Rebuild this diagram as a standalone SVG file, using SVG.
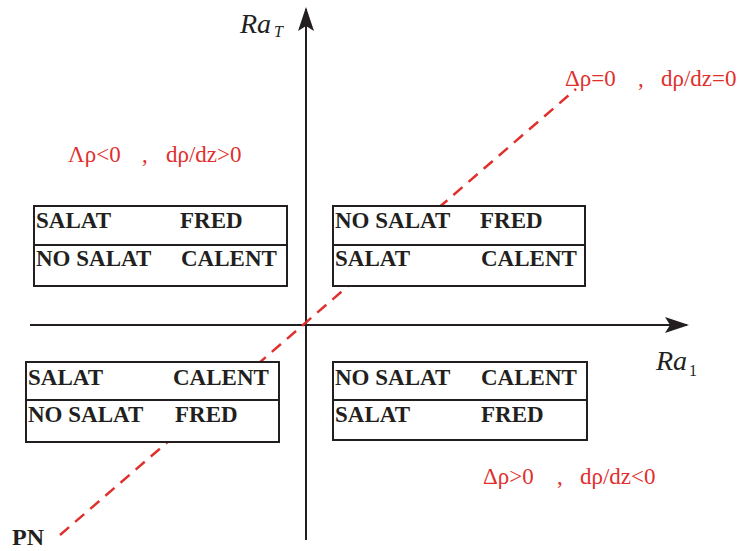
<svg xmlns="http://www.w3.org/2000/svg" width="742" height="551" viewBox="0 0 742 551">
<style>
.box{fill:#fff;stroke:#231f20;stroke-width:2}
.div{stroke:#231f20;stroke-width:2}
.t{font-family:"Liberation Serif", "Times New Roman", serif;font-weight:bold;font-size:23px;fill:#231f20}
.r{font-family:"Liberation Serif", "Times New Roman", serif;font-size:23px;fill:#e0302e}
.ax{font-family:"Liberation Serif", "Times New Roman", serif;font-style:italic;font-size:28px;fill:#231f20}
.sub{font-family:"Liberation Serif", "Times New Roman", serif;font-style:italic;font-size:16px;fill:#231f20}
</style>
<defs>
<marker id="arr" viewBox="0 0 24 16" refX="22" refY="8" markerWidth="24" markerHeight="16" markerUnits="userSpaceOnUse" orient="auto">
<path d="M0,0 L24,8 L0,16 L5,8 Z" fill="#231f20"/>
</marker>
</defs>
<rect width="742" height="551" fill="#fff"/>
<g id="connectors">
<line x1="306" y1="540" x2="306" y2="9" stroke="#231f20" stroke-width="2" marker-end="url(#arr)"/>
<line x1="30" y1="325" x2="687" y2="325" stroke="#231f20" stroke-width="2" marker-end="url(#arr)"/>
<line x1="60" y1="535" x2="576" y2="89" stroke="#e0302e" stroke-width="2.5" stroke-dasharray="12,8"/>
</g>
<g id="axis-labels">
<text class="ax" x="240" y="33">Ra</text><text class="sub" x="274" y="37">T</text>
<text class="ax" x="656" y="370">Ra</text><text class="sub" x="689" y="376" style="font-style:normal">1</text>
<text class="t" x="12" y="545" style="font-size:24px">PN</text>
</g>
<g id="label-top-right">
<text class="r" x="565" y="86">Δρ=0</text><text class="r" x="638" y="86">,</text><text class="r" x="661" y="86">dρ/dz=0</text>
</g>
<g id="label-top-left">
<text class="r" x="68" y="162">Λρ&lt;0</text><text class="r" x="142" y="162">,</text><text class="r" x="166" y="162">dρ/dz&gt;0</text>
</g>
<g id="label-bottom-right">
<text class="r" x="483" y="484">Δρ&gt;0</text><text class="r" x="557" y="484">,</text><text class="r" x="580" y="484">dρ/dz&lt;0</text>
</g>
<g id="box-top-left">
<rect class="box" x="34" y="206" width="253" height="80"/>
<line class="div" x1="34" y1="245" x2="287" y2="245"/>
<text class="t" x="36" y="228">SALAT</text><text class="t" x="180" y="228">FRED</text>
<text class="t" x="36" y="266">NO SALAT</text><text class="t" x="181" y="266">CALENT</text>
</g>
<g id="box-top-right">
<rect class="box" x="333" y="206" width="252" height="80"/>
<line class="div" x1="333" y1="245" x2="585" y2="245"/>
<text class="t" x="335" y="228">NO SALAT</text><text class="t" x="480" y="228">FRED</text>
<text class="t" x="335" y="266">SALAT</text><text class="t" x="481" y="266">CALENT</text>
</g>
<g id="box-bottom-left">
<rect class="box" x="26" y="362" width="253" height="80"/>
<line class="div" x1="26" y1="400" x2="279" y2="400"/>
<text class="t" x="28" y="385">SALAT</text><text class="t" x="173" y="385">CALENT</text>
<text class="t" x="28" y="422">NO SALAT</text><text class="t" x="175" y="422">FRED</text>
</g>
<g id="box-bottom-right">
<rect class="box" x="333" y="362" width="254" height="78"/>
<line class="div" x1="333" y1="400" x2="587" y2="400"/>
<text class="t" x="335" y="385">NO SALAT</text><text class="t" x="481" y="385">CALENT</text>
<text class="t" x="335" y="422">SALAT</text><text class="t" x="481" y="422">FRED</text>
</g>
</svg>
